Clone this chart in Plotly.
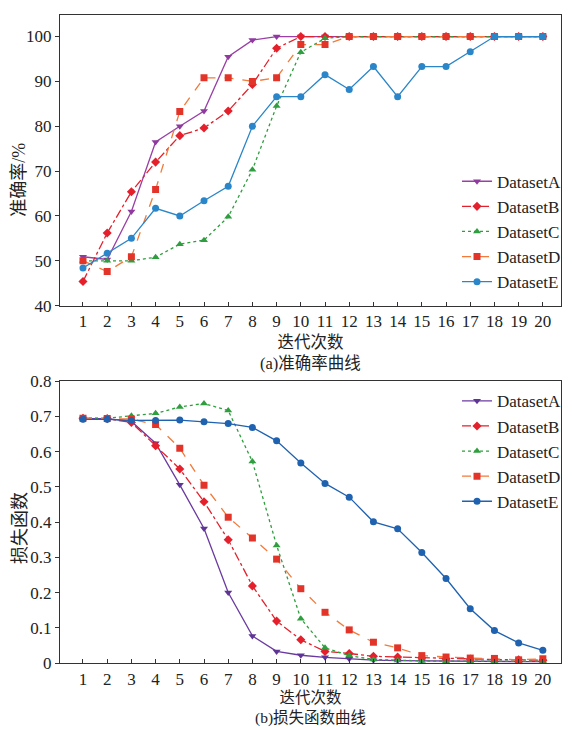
import plotly.graph_objects as go

iters = list(range(1, 21))
names = ["DatasetA", "DatasetB", "DatasetC", "DatasetD", "DatasetE"]

acc_A = [50.9, 50.3, 61.0, 76.5, 80.0, 83.4, 95.5, 99.2, 100, 100, 100, 100, 100, 100, 100, 100, 100, 100, 100, 100]
acc_B = [45.4, 56.2, 65.4, 72.0, 77.9, 79.6, 83.4, 89.3, 97.4, 100, 100, 100, 100, 100, 100, 100, 100, 100, 100, 100]
acc_C = [50.0, 50.0, 50.0, 50.8, 53.7, 54.6, 59.8, 70.3, 84.5, 96.5, 99.6, 100, 100, 100, 100, 100, 100, 100, 100, 100]
acc_D = [50.0, 47.6, 50.9, 65.9, 83.3, 90.8, 90.8, 90.0, 90.8, 98.2, 98.2, 100, 100, 100, 100, 100, 100, 100, 100, 100]
acc_E = [48.4, 51.7, 55.0, 61.7, 60.0, 63.4, 66.6, 80.0, 86.6, 86.6, 91.5, 88.2, 93.3, 86.6, 93.3, 93.3, 96.6, 100, 100, 100]

loss_A = [0.694, 0.694, 0.686, 0.624, 0.506, 0.382, 0.200, 0.077, 0.033, 0.022, 0.016, 0.012, 0.008, 0.007, 0.006, 0.005, 0.005, 0.005, 0.004, 0.004]
loss_B = [0.695, 0.694, 0.683, 0.617, 0.551, 0.458, 0.350, 0.219, 0.119, 0.066, 0.033, 0.027, 0.019, 0.017, 0.015, 0.012, 0.011, 0.010, 0.009, 0.008]
loss_C = [0.695, 0.695, 0.702, 0.709, 0.727, 0.737, 0.717, 0.572, 0.334, 0.126, 0.043, 0.021, 0.010, 0.007, 0.006, 0.005, 0.005, 0.005, 0.005, 0.005]
loss_D = [0.695, 0.694, 0.693, 0.677, 0.610, 0.505, 0.414, 0.355, 0.295, 0.211, 0.144, 0.094, 0.059, 0.043, 0.021, 0.017, 0.014, 0.013, 0.009, 0.012]
loss_E = [0.692, 0.692, 0.689, 0.689, 0.690, 0.685, 0.680, 0.669, 0.631, 0.568, 0.510, 0.471, 0.401, 0.381, 0.314, 0.240, 0.154, 0.092, 0.057, 0.036]

acc_series = [acc_A, acc_B, acc_C, acc_D, acc_E]
loss_series = [loss_A, loss_B, loss_C, loss_D, loss_E]

top_line_colors = ["#9a3fa6", "#e4202c", "#2e9e3e", "#f27a3a", "#2a86c8"]
bot_line_colors = ["#6a3aa0", "#e4202c", "#2e9e3e", "#f27a3a", "#1f62b0"]
marker_colors_top = ["#8e3a9e", "#e4202c", "#2e9e3e", "#e3342a", "#2a86c8"]
marker_colors_bot = ["#5e3596", "#e4202c", "#2e9e3e", "#e3342a", "#1f62b0"]
symbols = ["triangle-down", "diamond", "triangle-up", "square", "circle"]
dashes = ["solid", "dashdot", "dot", "dash", "solid"]

fig = go.Figure()
for i in range(5):
    fig.add_trace(go.Scatter(
        x=iters, y=acc_series[i], name=names[i], mode="lines+markers",
        line=dict(color=top_line_colors[i], width=1.3, dash=dashes[i]),
        marker=dict(symbol=symbols[i], size=7, color=marker_colors_top[i]),
        xaxis="x", yaxis="y", legend="legend"))
for i in range(5):
    fig.add_trace(go.Scatter(
        x=iters, y=loss_series[i], name=names[i], mode="lines+markers",
        line=dict(color=bot_line_colors[i], width=1.3, dash=dashes[i]),
        marker=dict(symbol=symbols[i], size=7, color=marker_colors_bot[i]),
        xaxis="x2", yaxis="y2", legend="legend2"))

W, H = 572, 730
ml, mr, mt, mb = 60, 6, 12, 67
ph = H - mt - mb

def py(p):
    return 1 - (p - mt) / ph

font_main = "Liberation Serif, Times New Roman, Noto Sans CJK SC, serif"
tickfont = dict(family=font_main, size=17, color="#222")

xcommon = dict(range=[0.05, 20.75], tickvals=iters, ticks="inside", ticklen=4,
               showline=True, linecolor="#333", linewidth=1.2, mirror=True,
               showgrid=False, zeroline=False, tickfont=tickfont, tickcolor="#333")

fig.update_layout(
    width=W, height=H,
    margin=dict(l=ml, r=mr, t=mt, b=mb),
    paper_bgcolor="white", plot_bgcolor="white",
    font=dict(family=font_main, size=17, color="#222"),
    xaxis=dict(domain=[0, 1], anchor="y", **xcommon),
    yaxis=dict(domain=[py(304), 1], anchor="x", range=[40, 104.8],
               tickvals=[40, 50, 60, 70, 80, 90, 100], ticks="outside", ticklen=4,
               showline=True, linecolor="#333", linewidth=1.2, mirror=True,
               showgrid=False, zeroline=False, tickfont=tickfont, tickcolor="#333"),
    xaxis2=dict(domain=[0, 1], anchor="y2", **xcommon),
    yaxis2=dict(domain=[0, py(380)], anchor="x2", range=[0, 0.8],
                tickvals=[0, 0.1, 0.2, 0.3, 0.4, 0.5, 0.6, 0.7, 0.8],
                ticktext=["0", "0.1", "0.2", "0.3", "0.4", "0.5", "0.6", "0.7", "0.8"],
                ticks="outside", ticklen=4,
                showline=True, linecolor="#333", linewidth=1.2, mirror=True,
                showgrid=False, zeroline=False, tickfont=tickfont, tickcolor="#333"),
    legend=dict(x=1.01, xanchor="right", y=py(298), yanchor="bottom",
                bgcolor="rgba(255,255,255,0)", font=dict(family=font_main, size=17, color="#222"),
                tracegroupgap=0, itemwidth=30),
    legend2=dict(x=1.01, xanchor="right", y=py(382), yanchor="top",
                 bgcolor="rgba(255,255,255,0)", font=dict(family=font_main, size=17, color="#222"),
                 tracegroupgap=0, itemwidth=30),
    showlegend=True,
)

ann_font = dict(family=font_main, size=18, color="#222")
cap_font = dict(family=font_main, size=16.5, color="#222")
cap_font_b = dict(family=font_main, size=15.5, color="#222")
fig.add_annotation(text="迭代次数<br>(a)准确率曲线", xref="paper", yref="paper", x=0.5, y=py(329),
                   showarrow=False, font=cap_font, yanchor="top", align="center")
fig.add_annotation(text="迭代次数<br>(b)损失函数曲线", xref="paper", yref="paper", x=0.5, y=py(687),
                   showarrow=False, font=cap_font_b, yanchor="top", align="center")
fig.add_annotation(text="准确率/%", xref="paper", yref="paper", x=-(ml - 19) / (W - ml - mr),
                   y=py(177), textangle=-90, showarrow=False, font=ann_font,
                   xanchor="center", yanchor="middle")
fig.add_annotation(text="损失函数", xref="paper", yref="paper", x=-(ml - 19) / (W - ml - mr),
                   y=py(527), textangle=-90, showarrow=False, font=ann_font,
                   xanchor="center", yanchor="middle")

fig.write_html("out.html")
